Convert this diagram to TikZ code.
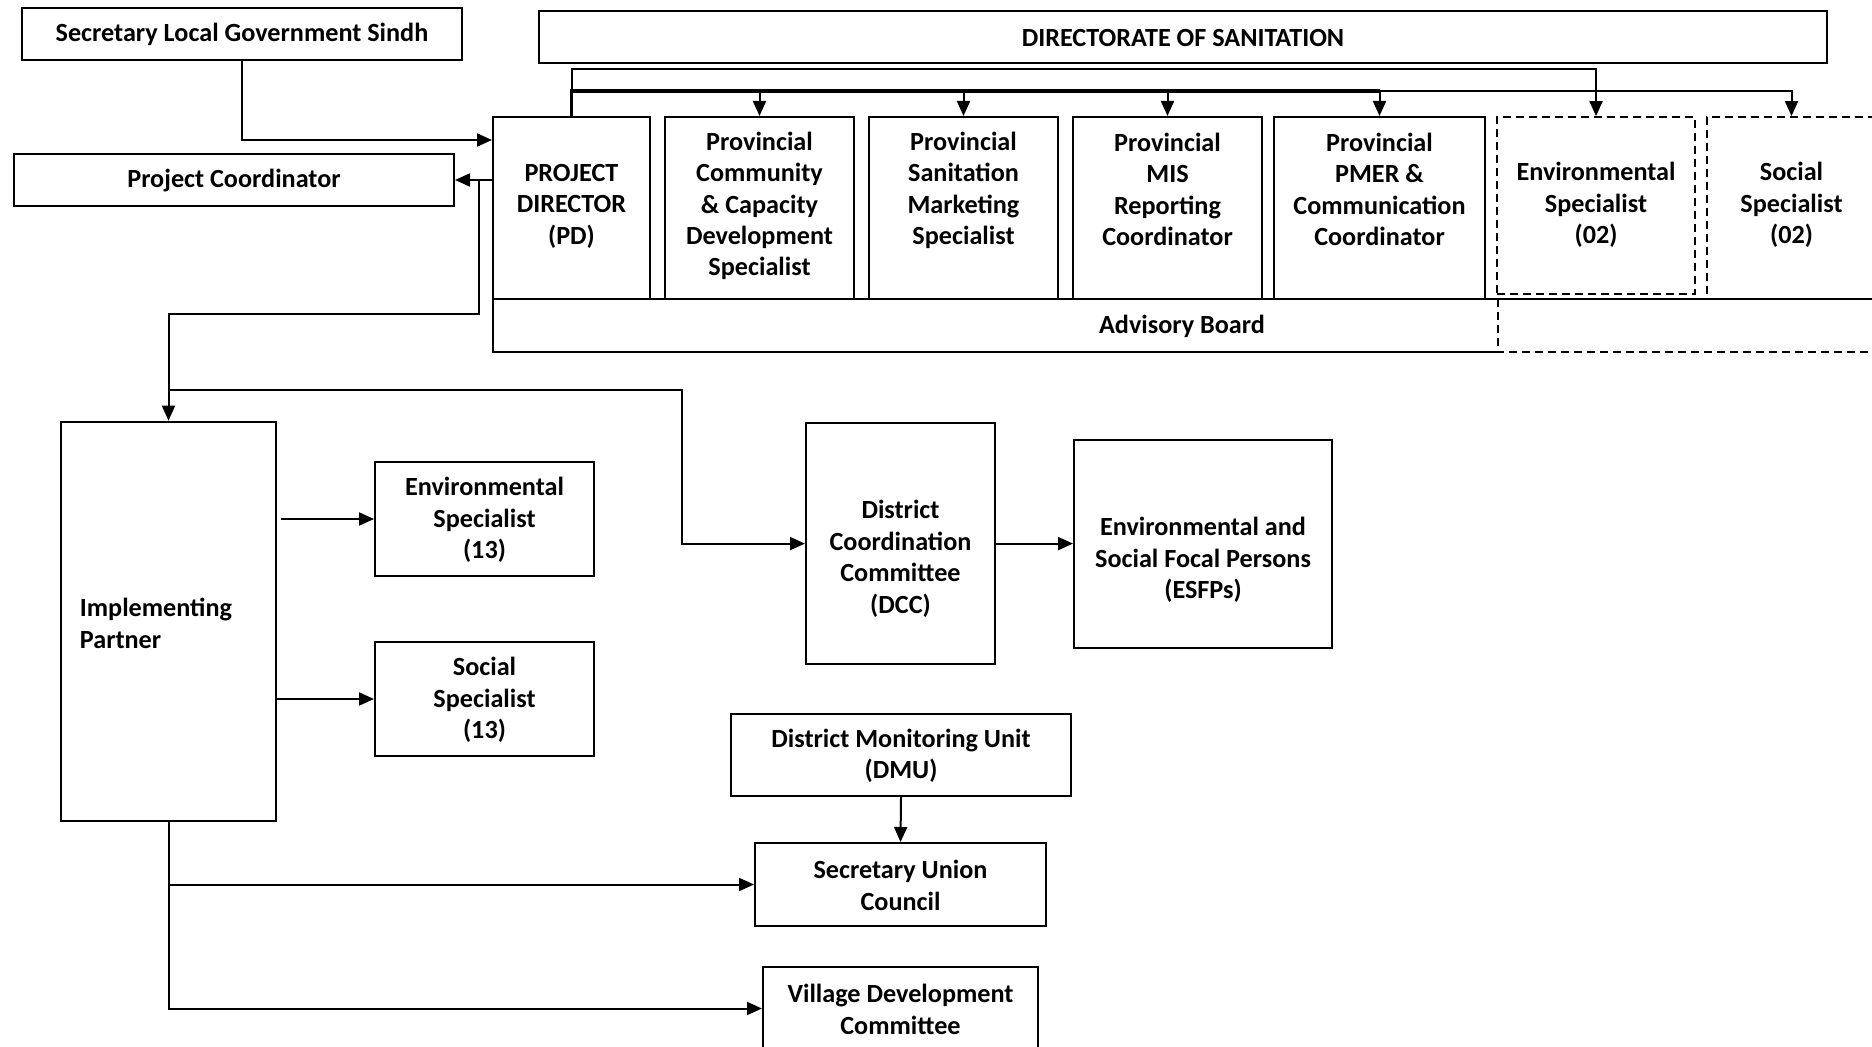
\documentclass[tikz,border=0pt]{standalone}
\usepackage{fontspec}
\setmainfont{Carlito}
\usetikzlibrary{arrows.meta}
\begin{document}
\begin{tikzpicture}[x=0.5pt,y=-0.5pt,
  every node/.style={font=\fontsize{13.1}{15.7}\selectfont\bfseries},
  box/.style={draw, line width=1pt, rectangle, inner sep=0pt},
  dbox/.style={box, dash pattern=on 4pt off 2.5pt, line width=0.9pt},
  dline/.style={dash pattern=on 4pt off 2.5pt, line width=0.9pt},
  txt/.style={align=center, inner sep=0pt, yshift=-0.4pt},
  arr/.style={line width=1pt, -{Triangle[length=7.5pt,width=6.5pt]}},
  bus/.style={line width=1pt},
  heavybus/.style={line width=1.7pt}]
\useasboundingbox (0,0) rectangle (1872,1047);
\clip (0,0) rectangle (1872,1047);

% routing levels
\coordinate (t1) at (0,69);
\coordinate (t2) at (0,91);
\coordinate (r1) at (0,314);
\coordinate (r2) at (0,390);

% provincial level
\node[box, minimum width=220pt, minimum height=26pt] (slg) at (242,34) {};
\node[txt] (slg-t) at (slg) {Secretary Local Government Sindh};
\node[box, minimum width=644pt, minimum height=26pt] (dir) at (1183,37) {};
\node[txt] (dir-t) at (dir) {DIRECTORATE OF SANITATION};
\node[box, minimum width=220pt, minimum height=26pt] (pc) at (234,180) {};
\node[txt] (pc-t) at (pc) {Project Coordinator};

\node[box, minimum width=78.5pt, minimum height=91pt] (pd) at (571.5,208) {};
\node[txt] (pd-t) at (571.5,205.3) {PROJECT\\DIRECTOR\\(PD)};

\node[box, minimum width=94.5pt, minimum height=91pt] (pcc) at (759.5,208) {};
\node[txt] (pcc-t) at (759.5,205.2) {Provincial\\Community\\\& Capacity\\Development\\Specialist};

\node[box, minimum width=94.5pt, minimum height=91pt] (psm) at (963.5,208) {};
\node[txt] (psm-t) at (963.5,189.7) {Provincial\\Sanitation\\Marketing\\Specialist};

\node[box, minimum width=94.5pt, minimum height=91pt] (mis) at (1167.5,208) {};
\node[txt] (mis-t) at (1167.5,188.5) {Provincial\\MIS\\Reporting\\Coordinator};

\node[box, minimum width=105.5pt, minimum height=91pt] (pmer) at (1379.5,208) {};
\node[txt] (pmer-t) at (1379.5,188.5) {Provincial\\PMER \&\\Communication\\Coordinator};

\node[dbox, minimum width=99pt, minimum height=88.5pt] (env02) at (1596,205.5) {};
\node[txt] (env02-t) at (1596,204.3) {Environmental\\Specialist\\(02)};

\node[dbox, minimum width=84.5pt, minimum height=91pt] (soc02) at (1791.5,208) {};
\node[txt] (soc02-t) at (1791.5,204.3) {Social\\Specialist\\(02)};

% advisory board band (solid part, dashed part to the right)
\node[inner sep=0pt, minimum width=689pt, minimum height=26.5pt] (adv) at (1182,325.5) {};
\node[txt] (adv-t) at (adv) {Advisory Board};
\coordinate (advsplit) at ([xshift=1pt]env02.west);
\draw[bus] (adv.south -| advsplit) -- (adv.south west) -- (adv.north west) -- ([xshift=4pt]adv.north east);
\draw[dline] (adv.north -| advsplit) -- (adv.south -| advsplit) -- ([xshift=4pt]adv.south east);

% district level
\node[box, minimum width=107.5pt, minimum height=199.5pt] (ip) at (168.5,621.2) {};
\node[txt, anchor=west, align=left] (ip-t) at (79.5,622.7) {Implementing\\Partner};

\node[box, minimum width=109.5pt, minimum height=57pt] (env13) at (484.5,519) {};
\node[txt] (env13-t) at (env13) {Environmental\\Specialist\\(13)};
\node[box, minimum width=109.5pt, minimum height=57pt] (soc13) at (484.5,699) {};
\node[txt] (soc13-t) at (soc13) {Social\\Specialist\\(13)};

\node[box, minimum width=94.5pt, minimum height=120.2pt] (dcc) at (900.5,543.6) {};
\node[txt] (dcc-t) at (900.5,558) {District\\Coordination\\Committee\\(DCC)};

\node[box, minimum width=129pt, minimum height=104.2pt] (esfp) at (1203,543.8) {};
\node[txt] (esfp-t) at (1203,559) {Environmental and\\Social Focal Persons\\(ESFPs)};

\node[box, minimum width=170pt, minimum height=41pt] (dmu) at (901,755) {};
\node[txt] (dmu-t) at (dmu) {District Monitoring Unit\\(DMU)};
\node[box, minimum width=145.5pt, minimum height=41.5pt] (suc) at (900.5,884.5) {};
\node[txt] (suc-t) at (suc) {Secretary Union\\Council};
\node[box, minimum width=137.5pt, minimum height=41.5pt] (vdc) at (900.5,1008.5) {};
\node[txt] (vdc-t) at (vdc) {Village Development\\Committee};

% connectors: top
\draw[arr] (slg.south) |- ([yshift=-12pt]pd.north west);
\draw[arr] (pd.west |- pc.east) -- (pc.east);
\draw[arr] (pd.north) |- (env02.north |- t1) -- (env02.north);
\draw[arr] (pd.north) |- (soc02.north |- t2) -- (soc02.north);
\draw[heavybus] (pd.north) |- (pmer.north |- t2);
\foreach \n in {pcc,psm,mis,pmer}
  \draw[arr] (\n.north |- t2) -- (\n.north);

% connectors: down to district level
\coordinate (j1) at ([xshift=-6.5pt]pd.west |- pc.east);
\draw[arr] (j1) |- (ip.north |- r1) -- (ip.north);
\coordinate (j2) at (ip.north |- r2);
\draw[arr] (j2) -| ([xshift=-61.5pt]dcc.west) -- (dcc.west);
\draw[arr] (dcc.east) -- (dcc.east -| esfp.west);
\draw[arr] ([xshift=2pt]ip.east |- env13.west) -- (env13.west);
\draw[arr] (ip.east |- soc13.west) -- (soc13.west);
\draw[arr] (ip.south) |- (vdc.west);
\draw[arr] (ip.south |- suc.west) -- (suc.west);
\draw[arr] (dmu.south) -- (suc.north);
\end{tikzpicture}
\end{document}
